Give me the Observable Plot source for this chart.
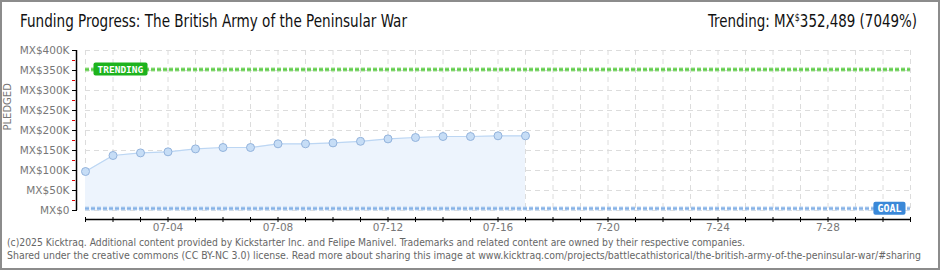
<!DOCTYPE html>
<html><head><meta charset="utf-8">
<script src="https://cdn.jsdelivr.net/npm/d3@7"></script>
<script src="https://cdn.jsdelivr.net/npm/@observablehq/plot@0.6"></script>
<style>
html,body{margin:0;padding:0;background:#fff;}
#frame{position:relative;width:940px;height:270px;overflow:hidden;background:#fff;}
#border{position:absolute;left:0;top:0;width:940px;height:270px;box-sizing:border-box;border:2px solid #8c8c8c;pointer-events:none;}
#title{position:absolute;left:20px;top:13px;font:17px/17px "DejaVu Sans Condensed","Liberation Sans Narrow",sans-serif;color:#111;white-space:nowrap;transform-origin:0 0;}
#trend{position:absolute;left:708px;top:13px;font:17px/17px "DejaVu Sans Condensed","Liberation Sans Narrow",sans-serif;color:#111;white-space:nowrap;transform-origin:0 0;}
#trend sup{font-size:10px;vertical-align:6px;line-height:0;}
#chart{position:absolute;left:0;top:40px;}
.foot{position:absolute;left:7px;font:10px/12px "DejaVu Sans Condensed","Liberation Sans Narrow",sans-serif;color:#666;white-space:nowrap;transform-origin:0 0;}
</style>
</head><body>
<div id="frame">
  <div id="title" data-w="387">Funding Progress: The British Army of the Peninsular War</div>
  <div id="trend" data-w="209">Trending: MX<sup>$</sup>352,489 (7049%)</div>
  <div id="chart"></div>
  <div class="foot" data-w="738" style="top:237px">(c)2025 Kicktraq. Additional content provided by Kickstarter Inc. and Felipe Manivel. Trademarks and related content are owned by their respective companies.</div>
  <div class="foot" data-w="914" style="top:250px">Shared under the creative commons (CC BY-NC 3.0) license. Read more about sharing this image at www.kicktraq.com/projects/battlecathistorical/the-british-army-of-the-peninsular-war/#sharing</div>
  <div id="border"></div>
</div>
<script>
// ---- data ----
const dates = ["2025-07-01","2025-07-02","2025-07-03","2025-07-04","2025-07-05","2025-07-06","2025-07-07","2025-07-08","2025-07-09","2025-07-10","2025-07-11","2025-07-12","2025-07-13","2025-07-14","2025-07-15","2025-07-16","2025-07-17"];
const pledged = [97500,137500,144000,146700,154000,157500,157500,166700,166700,169000,173000,179000,182500,185000,185000,186700,186700];
const trendingValue = 352489;
const goalValue = 5000;
const domainStart = "2025-07-01";
const domainEnd = "2025-07-31";
const yTicks = [0,50000,100000,150000,200000,250000,300000,350000,400000];
const yTickLabels = ["MX$0","MX$50K","MX$100K","MX$150K","MX$200K","MX$250K","MX$300K","MX$350K","MX$400K"];
const yMinorTicks = [25000,75000,125000,175000,225000,275000,325000,375000];
const xLabelDates = ["2025-07-04","2025-07-08","2025-07-12","2025-07-16","2025-07-20","2025-07-24","2025-07-28"];
const xTickLabels = ["07-04","07-08","07-12","07-16","7-20","7-24","7-28"];

// ---- fit header/footer text widths ----
document.querySelectorAll("[data-w]").forEach(el => {
  const w = el.getBoundingClientRect().width;
  const target = +el.dataset.w;
  if (w > 0) el.style.transform = `scaleX(${target / w})`;
});

// ---- build ----
const parse = d3.utcParse("%Y-%m-%d");
const data = dates.map((d,i)=>({date: parse(d), value: pledged[i]}));
const x0 = parse(domainStart), x1 = parse(domainEnd);
const dayTicks = d3.utcDay.range(x0, d3.utcDay.offset(x1,1));
const labelDates = xLabelDates.map(parse);
const labelMap = new Map(labelDates.map((d,i)=>[+d, xTickLabels[i]]));
const yLabelMap = new Map(yTicks.map((v,i)=>[v, yTickLabels[i]]));
const axisFont = "DejaVu Sans, sans-serif";

const chart = Plot.plot({
  width: 940, height: 195,
  marginLeft: 85, marginRight: 30, marginTop: 10, marginBottom: 25,
  style: {fontFamily: axisFont, fontSize: "10.5px", color: "#777", background: "transparent", overflow: "visible"},
  x: {type: "utc", domain: [x0, x1], axis: null},
  y: {domain: [0, 400000], axis: null},
  marks: [
    Plot.gridX(dayTicks, {stroke: "#dcdcdc", strokeOpacity: 1, strokeDasharray: "5,4"}),
    Plot.gridY(yTicks, {stroke: "#dcdcdc", strokeOpacity: 1, strokeDasharray: "5,4"}),
    Plot.areaY(data, {x: "date", y: "value", fill: "#edf4fd"}),
    Plot.lineY(data, {x: "date", y: "value", stroke: "#bcd6f3", strokeWidth: 1.2}),
    Plot.ruleY([trendingValue], {stroke: "#9ee08e", strokeWidth: 4, strokeDasharray: "4,2"}),
    Plot.ruleY([trendingValue], {stroke: "#5fcc4a", strokeWidth: 2, strokeDasharray: "4,2"}),
    Plot.ruleY([goalValue], {stroke: "#bcd5f2", strokeWidth: 4, strokeDasharray: "4,2"}),
    Plot.ruleY([goalValue], {stroke: "#86b2e6", strokeWidth: 2, strokeDasharray: "4,2"}),
    Plot.dot(data, {x: "date", y: "value", r: 4, fill: "#c6ddf6", stroke: "#93b3dc", strokeWidth: 1}),
    // y axis line
    Plot.ruleX([x0], {y1: 0, y2: 400000, dx: -9, stroke: "#000", strokeWidth: 1.5}),
    Plot.axisY(yTicks, {anchor: "left", tickSize: 5, dx: -8, tickPadding: 3, stroke: "#000", fill: "#777", tickFormat: v => yLabelMap.get(v), label: null}),
    Plot.axisY(yMinorTicks, {anchor: "left", tickSize: 3, dx: -10, stroke: "#e00000", text: null, label: null}),
    Plot.text(["PLEDGED"], {frameAnchor: "left", rotate: -90, dx: -78, fill: "#777", fontSize: 10, text: d => d, style: "letter-spacing:1px"}),
    // x axis
    Plot.ruleY([0], {dy: 9, stroke: "#000", strokeWidth: 1.5}),
    Plot.axisX(dayTicks, {anchor: "bottom", tickSize: 5, dy: 7, stroke: "#000", text: null, label: null}),
    Plot.axisX(labelDates, {anchor: "bottom", tickSize: 0, tickPadding: 3, dy: 10, fill: "#777", tickFormat: d => labelMap.get(+d), label: null}),
    // labels
    Plot.text([trendingValue], {y: d => d, frameAnchor: "left", dx: 12, textAnchor: "start", text: () => "TRENDING", fill: "#fff", fontWeight: "bold", fontSize: 9.5, fontFamily: "DejaVu Sans Mono, monospace", className: "boxlbl trendlbl"}),
    Plot.text([goalValue], {y: d => d, frameAnchor: "right", dx: -9, textAnchor: "end", text: () => "GOAL", fill: "#fff", fontWeight: "bold", fontSize: 10, fontFamily: "DejaVu Sans Mono, monospace", className: "boxlbl goallbl"})
  ]
});
document.getElementById("chart").appendChild(chart);

// label boxes behind annotation texts
function boxes(sel, color, padX, padY) {
  d3.select(chart).selectAll(sel + " text").each(function() {
    const b = this.getBBox();
    d3.select(this.parentNode).insert("rect", () => this)
      .attr("x", b.x - padX).attr("y", b.y - padY)
      .attr("width", b.width + 2*padX).attr("height", b.height + 2*padY)
      .attr("rx", 2).attr("fill", color)
      .attr("transform", this.getAttribute("transform"));
  });
}
boxes(".trendlbl", "#1db31d", 4, 1);
boxes(".goallbl", "#3a88d8", 4, 1);
</script>
</body></html>
